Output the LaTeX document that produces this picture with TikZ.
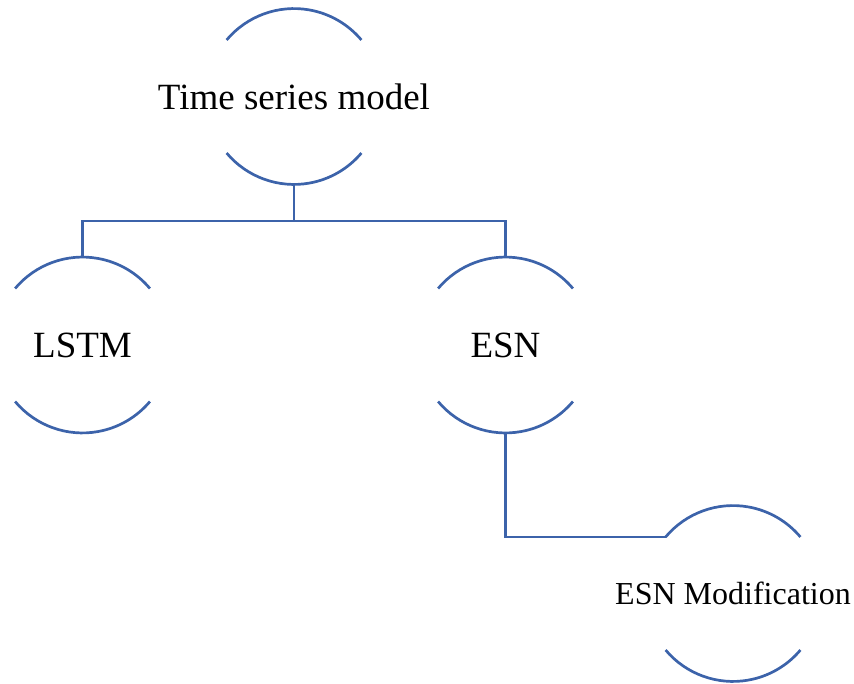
\documentclass[tikz,border=0pt]{standalone}
\usepackage{fontspec}
\setmainfont{Liberation Serif}
\usetikzlibrary{calc}
\definecolor{arcblue}{HTML}{3C63AA}
\tikzset{
  lbl/.style={inner sep=0pt, text=black},
  big/.style={lbl, font=\fontsize{37}{40}\selectfont},
  small/.style={lbl, font=\fontsize{32}{36}\selectfont},
  rim/.style={draw=arcblue, line width=2.7pt},
  link/.style={draw=arcblue, line width=2.7pt},
}
% draws the two circular caps around a label node and names their points
\newcommand{\capsaround}[1]{%
  \draw[rim] ($(#1)+(-67.4,-56.5)$) arc[start angle=220, end angle=320, radius=88];
  \draw[rim] ($(#1)+(-67.4,56.5)$) arc[start angle=140, end angle=40, radius=88];
  \coordinate (#1-n) at ($(#1)+(0,-88)$);
  \coordinate (#1-s) at ($(#1)+(0,88)$);
  \coordinate (#1-nw) at ($(#1)+(-67.4,-56.5)$);
}
\begin{document}
\begin{tikzpicture}[x=1pt, y=-1pt]
  \useasboundingbox (0,0) rectangle (854,683);
  \node[big] (tsm) at (294,96.5) {Time series model};
  \node[big] (lstm) at (82.5,345) {LSTM};
  \node[big] (esn) at (505.5,345) {ESN};
  \node[small] (mod) at (733,593.5) {ESN Modification};
  \capsaround{tsm}
  \capsaround{lstm}
  \capsaround{esn}
  \capsaround{mod}
  \coordinate (split) at ($(tsm-s)+(0,36.5)$);
  \draw[link] (tsm-s) -- (split);
  \draw[link] (lstm-n) |- (split) -| (esn-n);
  \draw[link] (esn-s) |- (mod-nw);
\end{tikzpicture}
\end{document}
